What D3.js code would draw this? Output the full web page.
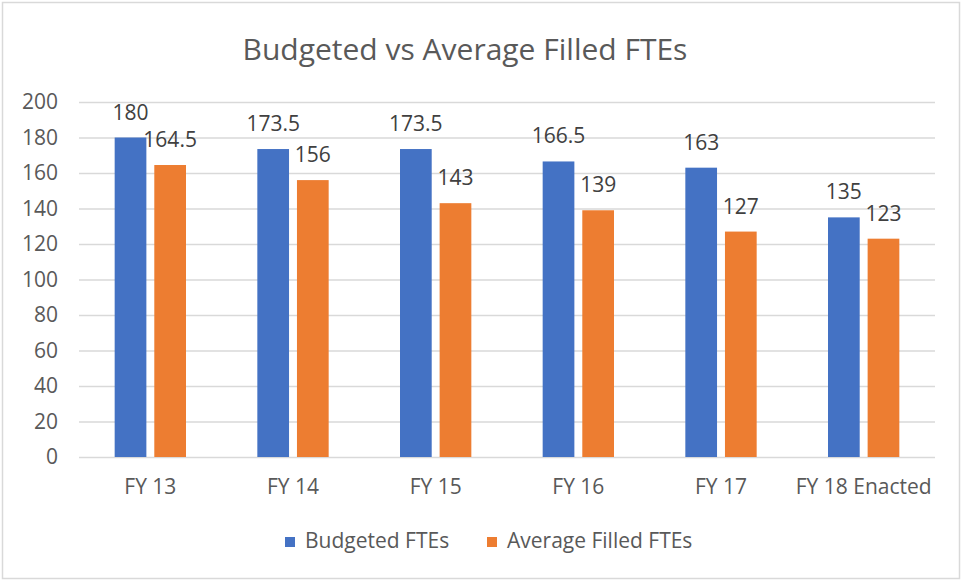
<!DOCTYPE html>
<html>
<head>
<meta charset="utf-8">
<script src="https://cdn.jsdelivr.net/npm/d3@7/dist/d3.min.js"></script>
<style>
  html, body { margin: 0; padding: 0; background: #fff; }
  svg text { font-family: "Segoe UI", "Open Sans", sans-serif; }
</style>
</head>
<body>
<div id="chart"></div>
<script>
const categories = ["FY 13", "FY 14", "FY 15", "FY 16", "FY 17", "FY 18 Enacted"];
const budgeted = [180, 173.5, 173.5, 166.5, 163, 135];
const filled = [164.5, 156, 143, 139, 127, 123];
const seriesNames = ["Budgeted FTEs", "Average Filled FTEs"];
const yTicks = [0, 20, 40, 60, 80, 100, 120, 140, 160, 180, 200];

const colors = ["#4472C4", "#ED7D31"];
const width = 964, height = 580;

const svg = d3.select("#chart").append("svg")
    .attr("width", width)
    .attr("height", height);

// chart border
svg.append("rect")
    .attr("x", 2.5).attr("y", 2.5)
    .attr("width", 957).attr("height", 576)
    .attr("fill", "#fff")
    .attr("stroke", "#D9D9D9")
    .attr("stroke-width", 1.5);

// title
svg.append("text")
    .attr("x", 465).attr("y", 60)
    .attr("text-anchor", "middle")
    .attr("fill", "#595959")
    .style("font-size", "30px")
    .text("Budgeted vs Average Filled FTEs");

const x0 = d3.scaleBand()
    .domain(categories)
    .range([79, 935]);

const x1 = d3.scaleBand()
    .domain(seriesNames)
    .range([0, x0.bandwidth()])
    .paddingInner(0.2)
    .paddingOuter(0.9);

const y = d3.scaleLinear()
    .domain([0, 200])
    .range([457, 102]);

// gridlines + y labels
const yAxis = svg.append("g")
    .attr("transform", "translate(79,0)")
    .call(d3.axisLeft(y).tickValues(yTicks).tickSize(-(935 - 79)).tickPadding(21));
yAxis.select(".domain").remove();
yAxis.selectAll(".tick line")
    .attr("stroke", "#D9D9D9")
    .attr("stroke-width", 1.5);
yAxis.selectAll(".tick text")
    .attr("fill", "#595959")
    .style("font-size", "21px");

// x labels
const xAxis = svg.append("g")
    .attr("transform", "translate(0,457)")
    .call(d3.axisBottom(x0).tickSize(0).tickPadding(22));
xAxis.select(".domain").remove();
xAxis.selectAll(".tick text")
    .attr("fill", "#595959")
    .style("font-size", "21px");

const rows = categories.map((c, i) => ({ cat: c, values: [budgeted[i], filled[i]] }));

const groups = svg.selectAll("g.cat")
    .data(rows)
    .enter().append("g")
    .attr("class", "cat")
    .attr("transform", d => "translate(" + x0(d.cat) + ",0)");

const bars = groups.selectAll("g.bar")
    .data(d => d.values.map((v, j) => ({ name: seriesNames[j], v: v, j: j })))
    .enter().append("g")
    .attr("class", "bar");

bars.append("rect")
    .attr("x", d => x1(d.name))
    .attr("y", d => y(d.v))
    .attr("width", x1.bandwidth())
    .attr("height", d => y(0) - y(d.v))
    .attr("fill", d => colors[d.j]);

bars.append("text")
    .attr("x", d => x1(d.name) + x1.bandwidth() / 2)
    .attr("y", d => y(d.v) - 18)
    .attr("text-anchor", "middle")
    .attr("fill", "#404040")
    .style("font-size", "21px")
    .text(d => d.v);

// legend
const legendX = [285, 487];
const legend = svg.selectAll("g.legend")
    .data(seriesNames)
    .enter().append("g")
    .attr("class", "legend")
    .attr("transform", (d, i) => "translate(" + legendX[i] + ",537)");
legend.append("rect")
    .attr("width", 10).attr("height", 10)
    .attr("fill", (d, i) => colors[i]);
legend.append("text")
    .attr("x", 20).attr("y", 11)
    .attr("fill", "#595959")
    .style("font-size", "21px")
    .text(d => d);
</script>
</body>
</html>
